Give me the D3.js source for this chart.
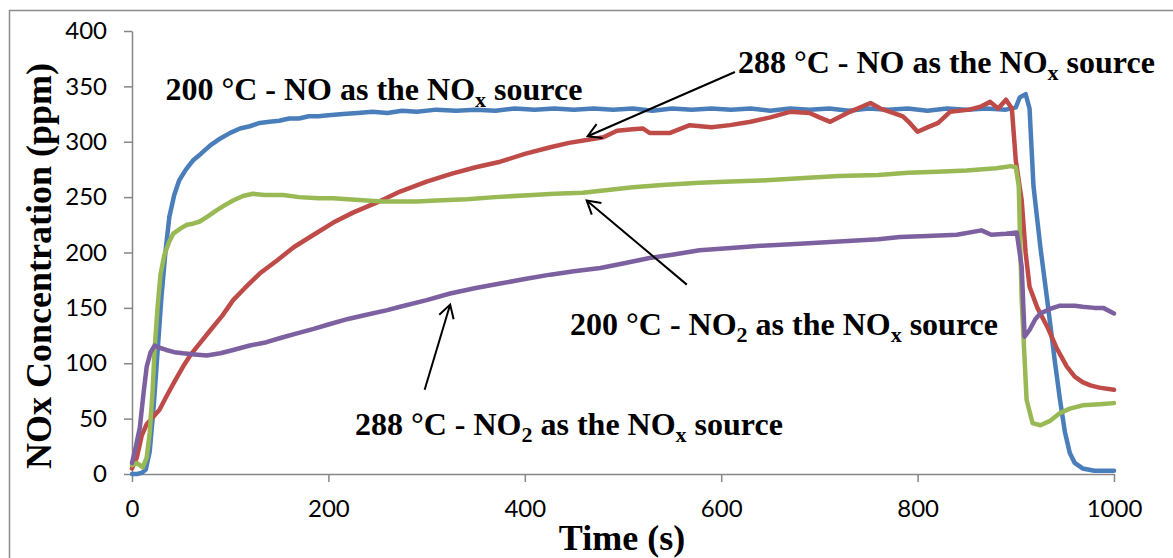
<!DOCTYPE html>
<html>
<head>
<meta charset="utf-8">
<script src="https://cdn.jsdelivr.net/npm/d3@7"></script>
<style>
  body { margin: 0; background: #fff; }
</style>
</head>
<body>
<script>
// [time s, NOx ppm]
let no200 = [[0,0],[5,0],[10,1],[14,4],[18,20],[22,60],[26,110],[30,160],[34,200],[38,232],[43,252],[48,265],[55,275],[62,283],[70,289],[80,297],[90,303],[100,308],[110,312],[120,314],[130,317],[140,318],[150,319],[160,321],[170,321],[180,323],[190,323],[200,324],[215,325],[230,326],[245,327],[260,326],[275,328],[290,327],[310,329],[330,328],[350,329],[370,328],[390,330],[410,329],[430,330],[450,329],[470,330],[490,329],[510,330],[530,328],[550,330],[570,329],[590,330],[610,329],[630,330],[650,328],[670,330],[690,329],[710,330],[730,328],[750,330],[770,329],[790,330],[810,328],[830,330],[850,329],[870,330],[890,329],[900,331],[904,340],[910,343],[914,330],[918,260],[925,205],[932,157],[940,100],[945,67],[950,38],[955,19],[960,10],[968,5],[980,3],[1000,3]];

let no288 = [[0,5],[5,15],[10,35],[15,45],[21,51],[28,58],[35,70],[43,83],[52,97],[60,108],[69,118],[80,130],[92,143],[103,157],[115,168],[130,181],[148,193],[165,205],[185,216],[205,227],[225,236],[249,245],[273,255],[300,264],[325,271],[350,277],[375,282],[400,289],[426,295],[445,299],[466,302],[480,304],[494,310],[507,311],[520,312],[527,308],[548,308],[568,315],[590,313],[609,315],[630,318],[650,322],[670,327],[690,326],[700,322],[711,318],[731,327],[752,335],[762,330],[772,327],[785,323],[792,317],[800,309],[810,313],[821,317],[833,327],[853,329],[865,332],[874,336],[882,330],[890,338],[896,330],[900,283],[906,247],[910,200],[914,169],[922,150],[932,133],[942,113],[952,97],[960,88],[968,83],[976,80],[985,78],[1000,76]];

let no2_200 = [[0,8],[5,10],[11,6],[15,15],[18,37],[21,75],[23,112],[26,150],[29,180],[33,198],[38,210],[42,217],[50,222],[56,225],[62,226],[69,228],[78,233],[86,238],[95,243],[103,247],[113,251],[123,253],[135,252],[154,252],[170,250],[190,249],[205,249],[220,248],[239,247],[255,246],[273,246],[290,246],[310,247],[341,248],[370,250],[408,252],[430,253],[459,254],[480,256],[510,259],[540,261],[578,263],[610,264],[640,265],[680,267],[720,269],[760,270],[790,272],[820,273],[850,274],[880,276],[895,278],[900,277],[903,260],[906,157],[911,67],[917,46],[925,44],[935,48],[945,55],[955,59],[968,62],[985,63],[1000,64]];

let no2_288 = [[0,10],[4,25],[8,42],[12,75],[15,97],[19,110],[23,116],[28,114],[35,112],[43,110],[52,109],[64,108],[76,107],[90,109],[103,112],[120,116],[137,119],[152,123],[168,127],[185,131],[200,135],[220,140],[240,144],[260,148],[273,151],[300,157],[324,163],[350,168],[375,172],[400,176],[426,180],[450,183],[477,186],[500,190],[527,195],[550,198],[578,202],[610,204],[640,206],[680,208],[720,210],[760,212],[782,214],[810,215],[840,216],[865,220],[875,216],[890,217],[901,218],[906,187],[909,124],[914,130],[920,140],[925,145],[935,149],[945,152],[960,152],[968,151],[980,150],[989,150],[1000,145]];

let xTicks = [0, 200, 400, 600, 800, 1000];
let yTicks = [0, 50, 100, 150, 200, 250, 300, 350, 400];

// label start [t, ppm], pieces of text (sub = subscript)
let labels = [
  { at: [34, 331], parts: [["200 °C - NO as the NO"], ["x", 1], [" source"]] },
  { at: [617, 356], parts: [["288 °C - NO as the NO"], ["x", 1], [" source"]] },
  { at: [446, 119.5], parts: [["200 °C - NO"], ["2", 1], [" as the NO"], ["x", 1], [" source"]] },
  { at: [227, 29], parts: [["288 °C - NO"], ["2", 1], [" as the NO"], ["x", 1], [" source"]] }
];
// arrows: tail -> tip in data units
let arrows = [
  [[614, 363], [464, 305]],
  [[565, 171], [463, 247]],
  [[298, 76], [324, 153]]
];

let canvasW = 1173;
let canvasH = 558;

let svg = d3.select("body").append("svg")
  .attr("width", canvasW)
  .attr("height", canvasH);

// outer frame (cut by the picture edge)
svg.append("rect")
  .attr("x", 9.5).attr("y", 10.5)
  .attr("width", 1200).attr("height", 600)
  .attr("fill", "none")
  .attr("stroke", "#8c8c8c")
  .attr("stroke-width", 1.5);

let x = d3.scaleLinear().domain([0, 1000]).range([132, 1114]);
let y = d3.scaleLinear().domain([0, 400]).range([474, 31]);

let yAxis = svg.append("g")
  .attr("transform", "translate(" + x(0) + ",0)")
  .call(d3.axisLeft(y).tickValues(yTicks).tickSize(8).tickSizeOuter(0).tickPadding(17));

let xAxis = svg.append("g")
  .attr("transform", "translate(0," + y(0) + ")")
  .call(d3.axisBottom(x).tickValues(xTicks).tickFormat(d3.format("d")).tickSize(8).tickSizeOuter(0).tickPadding(18));

[xAxis, yAxis].forEach(a => {
  a.selectAll("path, line").attr("stroke", "#868686").attr("stroke-width", 1.5);
  a.selectAll("text")
    .attr("font-family", "Lato, sans-serif")
    .attr("font-size", "24px")
    .attr("fill", "#000");
});

let line = d3.line().x(d => x(d[0])).y(d => y(d[1]));

let series = [
  { data: no200, color: "#4a7ebb" },
  { data: no288, color: "#be4b48" },
  { data: no2_200, color: "#98b954" },
  { data: no2_288, color: "#7d60a0" }
];

series.forEach(s => {
  svg.append("path")
    .datum(s.data)
    .attr("d", line)
    .attr("fill", "none")
    .attr("stroke", s.color)
    .attr("stroke-width", 4.5)
    .attr("stroke-linejoin", "round")
    .attr("stroke-linecap", "round");
});

// annotations
labels.forEach(l => {
  let t = svg.append("text")
    .attr("x", x(l.at[0]))
    .attr("y", y(l.at[1]))
    .attr("font-family", "'Liberation Serif', 'Times New Roman', serif")
    .attr("font-weight", "bold")
    .attr("font-size", "32px")
    .attr("fill", "#000");
  l.parts.forEach(p => {
    if (p[1]) {
      t.append("tspan").attr("font-size", "22px").attr("dy", 7).text(p[0]);
    } else {
      t.append("tspan").attr("dy", t.selectAll("tspan").size() ? -7 : 0).text(p[0]);
    }
  });
});

arrows.forEach(a => {
  let x1 = x(a[0][0]), y1 = y(a[0][1]);
  let x2 = x(a[1][0]), y2 = y(a[1][1]);
  let ang = Math.atan2(y2 - y1, x2 - x1);
  let len = 15, spread = Math.PI / 6;
  svg.append("line")
    .attr("x1", x1).attr("y1", y1).attr("x2", x2).attr("y2", y2)
    .attr("stroke", "#000").attr("stroke-width", 2);
  svg.append("path")
    .attr("d", "M" + (x2 - len * Math.cos(ang - spread)) + "," + (y2 - len * Math.sin(ang - spread)) +
      "L" + x2 + "," + y2 +
      "L" + (x2 - len * Math.cos(ang + spread)) + "," + (y2 - len * Math.sin(ang + spread)))
    .attr("fill", "none")
    .attr("stroke", "#000")
    .attr("stroke-width", 2);
});

// axis titles
svg.append("text")
  .attr("x", 622)
  .attr("y", 550)
  .attr("text-anchor", "middle")
  .attr("font-family", "'Liberation Serif', 'Times New Roman', serif")
  .attr("font-weight", "bold")
  .attr("font-size", "36px")
  .attr("fill", "#000")
  .text("Time (s)");

svg.append("text")
  .attr("text-anchor", "middle")
  .attr("font-family", "'Liberation Serif', 'Times New Roman', serif")
  .attr("font-weight", "bold")
  .attr("font-size", "36px")
  .attr("fill", "#000")
  .attr("transform", "translate(51,266) rotate(-90)")
  .text("NOx Concentration (ppm)");
</script>
</body>
</html>
